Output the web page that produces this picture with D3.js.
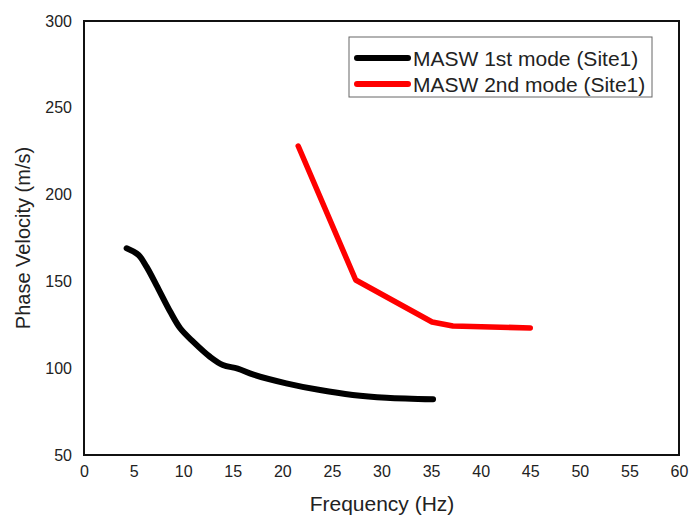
<!DOCTYPE html>
<html>
<head>
<style>
  body { margin: 0; background: #fff; }
  text { font-family: "Liberation Sans", Arial, sans-serif; fill: #222; }
</style>
</head>
<body>
<script src="https://d3js.org/d3.v7.min.js"></script>
<script>
// series 1 : MASW 1st mode (Site1)
var freq1 = [4.3, 5.5, 6.3, 7.3, 8.7, 9.7, 11.0, 12.7, 14.0, 15.5, 17.1, 20.4, 23.8, 27.1, 30.5, 35.2];
var vel1  = [169.1, 165.2, 158.5, 147.9, 132.5, 123, 115.3, 106.6, 101.8, 99.8, 96.3, 91.3, 87.4, 84.6, 83, 82.1];
// series 2 : MASW 2nd mode (Site1)
var freq2 = [21.6, 27.4, 35.1, 37.2, 45];
var vel2  = [228, 150.8, 126.6, 124.3, 123.2];

var xTicks = [0, 5, 10, 15, 20, 25, 30, 35, 40, 45, 50, 55, 60];
var yTicks = [50, 100, 150, 200, 250, 300];
var legendLabels = ["MASW 1st mode (Site1)", "MASW 2nd mode (Site1)"];
var colors = ["#000000", "#ff0000"];

var width = 691, height = 519;
// plot box edges (don't use "top" as a global name, it clashes with window.top)
var plotL = 84, plotR = 679, plotT = 21, plotB = 455;

var svg = d3.select("body").append("svg")
    .attr("width", width)
    .attr("height", height);

var x = d3.scaleLinear().domain([0, 60]).range([plotL, plotR]);
var y = d3.scaleLinear().domain([50, 300]).range([plotB, plotT]);

// frame
svg.append("rect")
    .attr("x", plotL).attr("y", plotT)
    .attr("width", plotR - plotL).attr("height", plotB - plotT)
    .attr("fill", "none").attr("stroke", "#111").attr("stroke-width", 2);

// axes (labels only, no tick marks)
var xAxis = svg.append("g")
    .attr("transform", "translate(0," + plotB + ")")
    .call(d3.axisBottom(x).tickValues(xTicks).tickSize(0).tickPadding(11));
var yAxis = svg.append("g")
    .attr("transform", "translate(" + plotL + ",0)")
    .call(d3.axisLeft(y).tickValues(yTicks).tickSize(0).tickPadding(12));
[xAxis, yAxis].forEach(function(g) {
    g.select(".domain").remove();
    g.selectAll("text").attr("font-size", 16).style("font-family", "Liberation Sans, Arial, sans-serif").attr("fill", "#222");
});

// titles
svg.append("text")
    .attr("x", 382).attr("y", 511)
    .attr("text-anchor", "middle").attr("font-size", 21)
    .text("Frequency (Hz)");
svg.append("text")
    .attr("transform", "translate(30," + ((plotT + plotB) / 2) + ") rotate(-90)")
    .attr("text-anchor", "middle").attr("font-size", 20)
    .text("Phase Velocity (m/s)");

// lines
var s1 = freq1.map(function(f, i) { return [f, vel1[i]]; });
var s2 = freq2.map(function(f, i) { return [f, vel2[i]]; });

var line1 = d3.line().x(function(d) { return x(d[0]); }).y(function(d) { return y(d[1]); }).curve(d3.curveCatmullRom);
var line2 = d3.line().x(function(d) { return x(d[0]); }).y(function(d) { return y(d[1]); });

svg.append("path").datum(s1)
    .attr("d", line1).attr("fill", "none")
    .attr("stroke", colors[0]).attr("stroke-width", 6)
    .attr("stroke-linecap", "round").attr("stroke-linejoin", "round");
svg.append("path").datum(s2)
    .attr("d", line2).attr("fill", "none")
    .attr("stroke", colors[1]).attr("stroke-width", 5.5)
    .attr("stroke-linecap", "round").attr("stroke-linejoin", "round");

// legend
var legend = svg.append("g");
legend.append("rect")
    .attr("x", 349).attr("y", 37).attr("width", 303).attr("height", 60)
    .attr("fill", "#fff").attr("stroke", "#666").attr("stroke-width", 1);
legendLabels.forEach(function(lbl, i) {
    var ly = 58 + i * 26;
    legend.append("line")
        .attr("x1", 357).attr("x2", 408).attr("y1", ly).attr("y2", ly)
        .attr("stroke", colors[i]).attr("stroke-width", 6).attr("stroke-linecap", "round");
    legend.append("text")
        .attr("x", 413).attr("y", ly + 8)
        .attr("font-size", 21)
        .text(lbl);
});
</script>
</body>
</html>
